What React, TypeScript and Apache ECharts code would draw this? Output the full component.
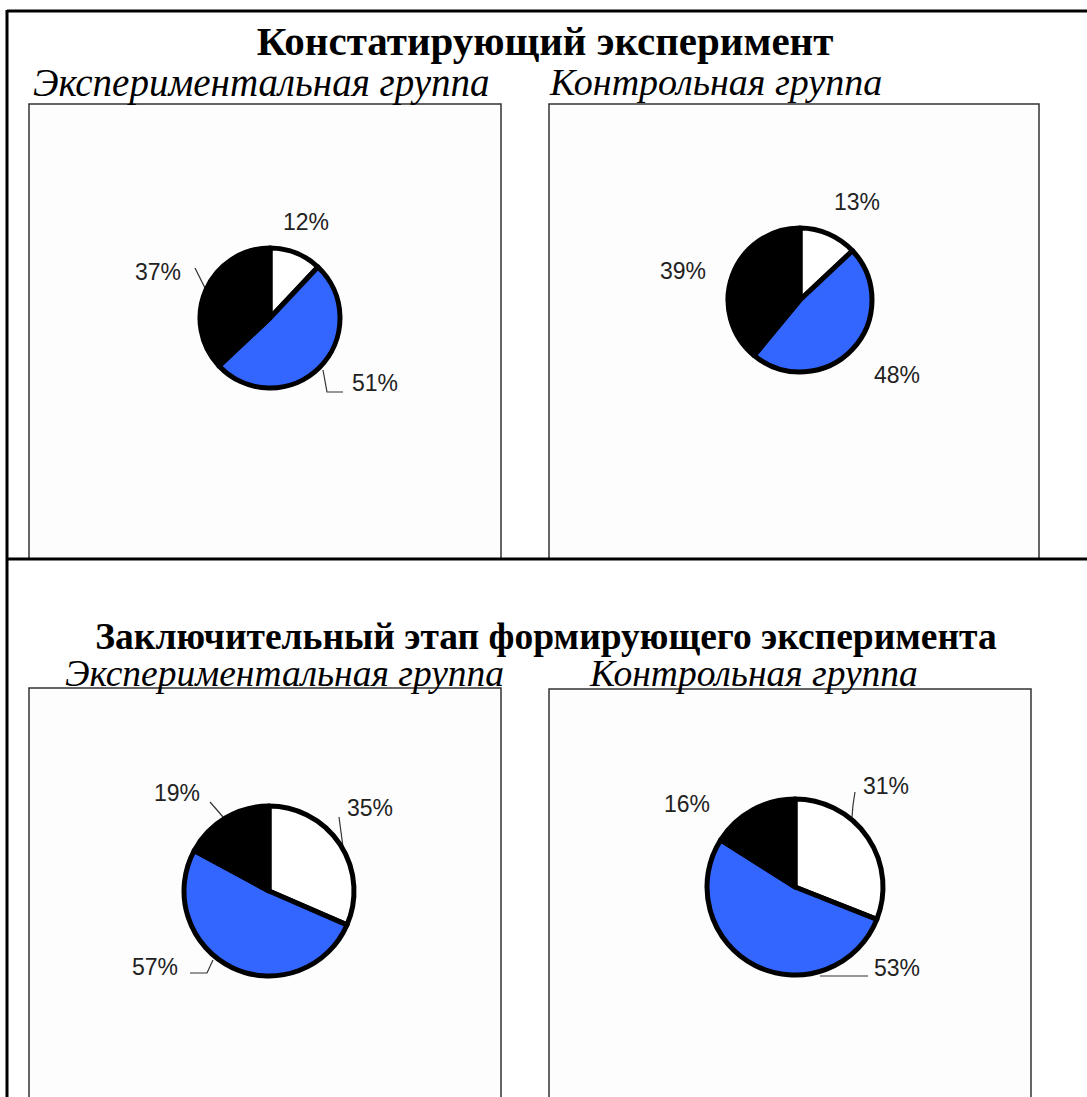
import React, { useEffect, useRef } from "react";
import * as echarts from "echarts";

// ---- data ----
const stageTitles = ["Констатирующий эксперимент", "Заключительный этап формирующего эксперимента"];
const groupTitles = ["Экспериментальная группа", "Контрольная группа"];
const sliceNames = ["Уровень 1", "Уровень 2", "Уровень 3"];
const confirmExpValues = [12, 51, 37];
const confirmCtrlValues = [13, 48, 39];
const finalExpValues = [35, 57, 19];
const finalCtrlValues = [31, 53, 16];

// ---- styles / layout ----
const sliceColors = ["#ffffff", "#3366ff", "#000000"];
const W = 1087;
const H = 1097;

type PieCfg = {
  values: number[];
  center: [number, number];
  radius: number;
  labelOffsets: [number, number][];
  leaders: ([number, number][] | null)[];
};

const pies: PieCfg[] = [
  {
    values: confirmExpValues,
    center: [270, 318],
    radius: 70,
    labelOffsets: [[36, -96], [105, 65], [-112, -46]],
    leaders: [null, [[53, 52], [57, 74], [73, 74]], [[-65, -30], [-70, -40], [-75, -50]]],
  },
  {
    values: confirmCtrlValues,
    center: [800, 300],
    radius: 72,
    labelOffsets: [[57, -98], [97, 75], [-117, -29]],
    leaders: [null, null, null],
  },
  {
    values: finalExpValues,
    center: [269, 891],
    radius: 85,
    labelOffsets: [[101, -83], [-114, 76], [-92, -98]],
    leaders: [
      [[74, -44], [72, -59], [70, -74]],
      [[-56, 69], [-62, 82], [-79, 82]],
      [[-46, -74], [-52, -81], [-59, -89]],
    ],
  },
  {
    values: finalCtrlValues,
    center: [795, 887],
    radius: 88,
    labelOffsets: [[91, -101], [102, 81], [-108, -83]],
    leaders: [[[57, -70], [58, -82], [60, -95]], [[25, 89], [49, 89], [73, 89]], null],
  },
];

const serif = '"Liberation Serif", "Times New Roman", serif';

export default function App() {
  const ref = useRef<HTMLDivElement>(null);

  useEffect(() => {
    document.body.style.margin = "0";
    if (!ref.current) return;
    const chart = echarts.init(ref.current, undefined, { renderer: "svg" });

    const series = pies.map((p) => ({
      type: "pie",
      center: p.center,
      radius: p.radius,
      startAngle: 90,
      clockwise: true,
      silent: true,
      itemStyle: { borderColor: "#000", borderWidth: 5 },
      label: {
        show: true,
        position: "outside",
        formatter: "{c}%",
        fontFamily: '"Liberation Sans", Arial, sans-serif',
        fontSize: 23,
        color: "#222",
      },
      labelLine: { show: true, lineStyle: { color: "#333", width: 1.2 } },
      data: p.values.map((v, i) => ({
        name: sliceNames[i],
        value: v,
        itemStyle: { color: sliceColors[i] },
        labelLine: { show: !!p.leaders[i] },
      })),
      labelLayout: (params: any) => {
        const off = p.labelOffsets[params.dataIndex];
        const cx = p.center[0];
        const cy = p.center[1];
        const lead = p.leaders[params.dataIndex];
        const res: any = {
          x: cx + off[0],
          y: cy + off[1],
          align: "center",
          verticalAlign: "middle",
        };
        if (lead) res.labelLinePoints = lead.map((pt) => [cx + pt[0], cy + pt[1]]);
        return res;
      },
    }));

    const lineStyle = { stroke: "#000", lineWidth: 3 };
    const boxStyle = { fill: "#fdfdfd", stroke: "#333", lineWidth: 1.5 };

    const txt = (text: string, x: number, y: number, font: string, align: string) => ({
      type: "text",
      x,
      y,
      style: { text, font, fill: "#000", textAlign: align, textVerticalAlign: "middle", lineHeight: 30 },
    });

    const graphic: any[] = [
      // outer table lines
      { type: "line", shape: { x1: 7, y1: 11, x2: W, y2: 11 }, style: lineStyle },
      { type: "line", shape: { x1: 7, y1: 10, x2: 7, y2: H }, style: lineStyle },
      { type: "line", shape: { x1: 7, y1: 559, x2: W, y2: 559 }, style: lineStyle },
      // chart boxes
      { type: "rect", shape: { x: 29, y: 104, width: 472, height: 455 }, style: boxStyle, z: -1 },
      { type: "rect", shape: { x: 549, y: 104, width: 490, height: 455 }, style: boxStyle, z: -1 },
      { type: "rect", shape: { x: 29, y: 688, width: 472, height: 430 }, style: boxStyle, z: -1 },
      { type: "rect", shape: { x: 549, y: 689, width: 482, height: 430 }, style: boxStyle, z: -1 },
      // titles
      txt(stageTitles[0], 545, 41, `bold 41px ${serif}`, "center"),
      txt(groupTitles[0], 33, 82, `italic 39px ${serif}`, "left"),
      txt(groupTitles[1], 550, 82, `italic 38px ${serif}`, "left"),
      txt(stageTitles[1], 546, 636, `bold 37.5px ${serif}`, "center"),
      txt(groupTitles[0], 65, 673, `italic 37.5px ${serif}`, "left"),
      txt(groupTitles[1], 590, 673, `italic 37.5px ${serif}`, "left"),
    ];

    chart.setOption({
      animation: false,
      backgroundColor: "#ffffff",
      graphic,
      series,
    } as any);

    return () => chart.dispose();
  }, []);

  return <div ref={ref} style={{ width: W, height: H }} />;
}
